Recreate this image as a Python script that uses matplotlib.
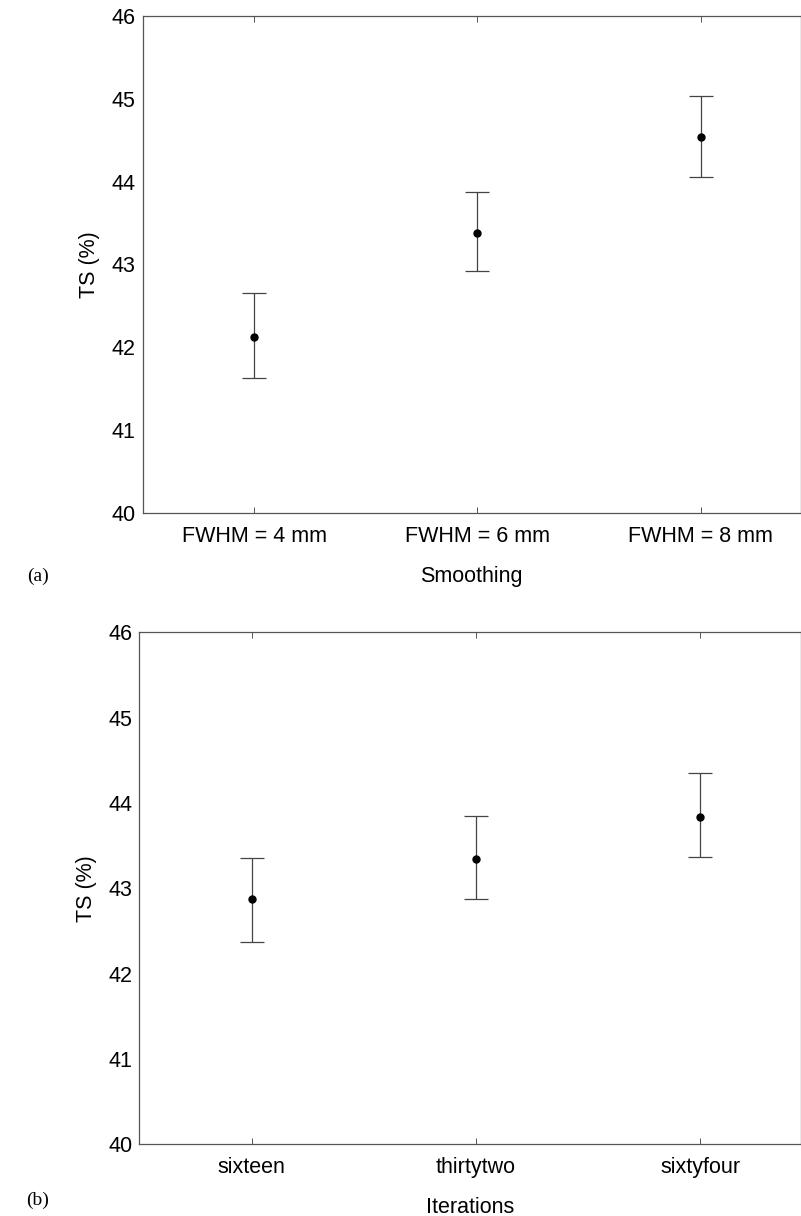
import matplotlib
matplotlib.use('Agg')
import matplotlib.pyplot as plt

plt.rcParams['font.family'] = ['Liberation Sans', 'DejaVu Sans']

# panel (a): smoothing
smooth_labels = ['FWHM = 4 mm', 'FWHM = 6 mm', 'FWHM = 8 mm']
smooth_mean = [42.12, 43.38, 44.54]
smooth_lo = [41.63, 42.92, 44.06]
smooth_hi = [42.65, 43.88, 45.03]

# panel (b): iterations
iter_labels = ['sixteen', 'thirtytwo', 'sixtyfour']
iter_mean = [42.87, 43.34, 43.84]
iter_lo = [42.37, 42.87, 43.37]
iter_hi = [43.36, 43.85, 44.35]

yticks = [40, 41, 42, 43, 44, 45, 46]
fs = 15.5

fig = plt.figure(figsize=(8.01, 12.16), dpi=100)
ax1 = fig.add_axes([0.178, 0.578, 0.822, 0.409])
ax2 = fig.add_axes([0.174, 0.059, 0.826, 0.421])


def draw(ax, labels, mean, lo, hi, xlabel):
    x = list(range(1, len(labels) + 1))
    err = [[m - l for m, l in zip(mean, lo)], [h - m for m, h in zip(mean, hi)]]
    ax.errorbar(x, mean, yerr=err, fmt='o', color='black', ecolor='#444444',
                elinewidth=0.9, capsize=8.5, capthick=0.9, markersize=5)
    ax.set_xlim(0.5, 3.45)
    ax.set_ylim(40, 46)
    ax.set_xticks(x)
    ax.set_xticklabels(labels, fontsize=fs)
    ax.set_yticks(yticks)
    ax.set_yticklabels([str(v) for v in yticks], fontsize=fs)
    ax.tick_params(axis='x', direction='in', length=4, top=True, width=0.7,
                   color='#555555', pad=9)
    ax.tick_params(axis='y', direction='out', length=0, pad=5)
    for s in ax.spines.values():
        s.set_color('#555555')
        s.set_linewidth(0.9)
    ax.set_xlabel(xlabel, fontsize=fs, labelpad=14)
    ax.set_ylabel('TS (%)', fontsize=fs, labelpad=8)


draw(ax1, smooth_labels, smooth_mean, smooth_lo, smooth_hi, 'Smoothing')
draw(ax2, iter_labels, iter_mean, iter_lo, iter_hi, 'Iterations')

fig.text(0.047, 1 - 576 / 1216, '(a)', family='Liberation Serif', fontsize=14,
         va='center', ha='center')
fig.text(0.047, 1 - 1200 / 1216, '(b)', family='Liberation Serif', fontsize=14,
         va='center', ha='center')

fig.savefig('out.png', dpi=100)
